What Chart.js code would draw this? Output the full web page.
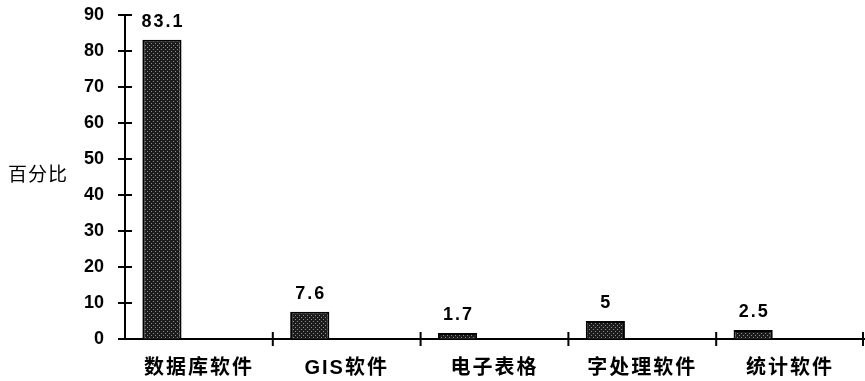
<!DOCTYPE html>
<html>
<head>
<meta charset="utf-8">
<script src="https://cdn.jsdelivr.net/npm/chart.js@4/dist/chart.umd.min.js"></script>
<style>
  html, body { margin: 0; padding: 0; background: #fff; }
  #wrap { width: 865px; height: 381px; }
</style>
</head>
<body>
<div id="wrap"><canvas id="c" width="865" height="381"></canvas></div>
<script>
// Software categories and their share (percent)
const categories = ['数据库软件', 'GIS软件', '电子表格', '字处理软件', '统计软件'];
const shares = [83.1, 7.6, 1.7, 5, 2.5];
// Empty companion series: keeps each bar in the left half of its category slot
const spacer = [null, null, null, null, null];
const yTickValues = [0, 10, 20, 30, 40, 50, 60, 70, 80, 90];
const yTitle = '百分比';

const latin = '"Liberation Sans", Arial, "Noto Sans CJK SC", sans-serif';
const cjk = '"Liberation Sans", "Noto Sans CJK SC", sans-serif';

// Stippled dark fill for the bars
function stipple() {
  const t = document.createElement('canvas');
  t.width = 4; t.height = 4;
  const g = t.getContext('2d');
  g.fillStyle = '#1c1c1c';
  g.fillRect(0, 0, 4, 4);
  g.fillStyle = '#8c8c8c';
  g.fillRect(1, 1, 1, 1);
  g.fillRect(3, 3, 1, 1);
  return g.createPattern(t, 'repeat');
}

const ctx = document.getElementById('c').getContext('2d');
const barFill = stipple();

// Wider letter spacing for the category labels only
const spacedCategoryLabels = {
  id: 'spacedCategoryLabels',
  afterLayout(chart) {
    const s = chart.scales.x;
    if (!s || s._spacedLabels) return;
    const orig = s.drawLabels.bind(s);
    s.drawLabels = function (area) {
      const c = this.ctx;
      const prev = c.letterSpacing;
      c.letterSpacing = '2px';
      orig(area);
      c.letterSpacing = prev;
    };
    s._spacedLabels = true;
  }
};

// Tick marks crossing both axes
const crossTicks = {
  id: 'crossTicks',
  afterDraw(chart) {
    const { ctx, chartArea, scales } = chart;
    const y = scales.y, x = scales.x;
    ctx.save();
    ctx.strokeStyle = '#000';
    ctx.lineWidth = 2;
    ctx.beginPath();
    yTickValues.forEach(v => {
      const py = Math.round(y.getPixelForValue(v));
      ctx.moveTo(chartArea.left - 7, py);
      ctx.lineTo(chartArea.left + 7, py);
    });
    const n = categories.length;
    for (let i = 1; i <= n; i++) {
      const px = i < n
        ? (x.getPixelForValue(i - 1) + x.getPixelForValue(i)) / 2
        : chartArea.right - 1;
      ctx.moveTo(px, chartArea.bottom - 7);
      ctx.lineTo(px, chartArea.bottom + 7);
    }
    ctx.stroke();
    ctx.restore();
  }
};

// Value labels above bars and the horizontal y-axis title
const labels = {
  id: 'labels',
  afterDatasetsDraw(chart) {
    const { ctx, chartArea } = chart;
    const meta = chart.getDatasetMeta(0);
    ctx.save();
    ctx.fillStyle = '#000';
    ctx.font = 'bold 18px ' + latin;
    ctx.textAlign = 'center';
    ctx.textBaseline = 'bottom';
    ctx.letterSpacing = '2px';
    meta.data.forEach((el, i) => {
      ctx.fillText(String(shares[i]), el.x + 1, el.y - 9);
    });
    ctx.font = '19px "Noto Sans CJK SC", sans-serif';
    ctx.textAlign = 'left';
    ctx.textBaseline = 'middle';
    ctx.letterSpacing = '1px';
    ctx.fillText(yTitle, 8, (chartArea.top + chartArea.bottom) / 2 - 3);
    ctx.restore();
  }
};

new Chart(ctx, {
  type: 'bar',
  data: {
    labels: categories,
    datasets: [
      {
        data: shares,
        backgroundColor: barFill,
        borderColor: '#000',
        borderWidth: 2,
        borderSkipped: 'bottom',
        categoryPercentage: 1,
        barPercentage: 0.53
      },
      {
        data: spacer,
        categoryPercentage: 1,
        barPercentage: 0.53
      }
    ]
  },
  options: {
    responsive: false,
    animation: false,
    devicePixelRatio: 1,
    layout: { autoPadding: false, padding: { left: 0, right: 1, top: 15, bottom: 0 } },
    plugins: {
      legend: { display: false },
      tooltip: { enabled: false },
      title: { display: false }
    },
    scales: {
      x: {
        grid: { display: false, drawTicks: false },
        border: { display: true, color: '#000', width: 2 },
        ticks: {
          color: '#000',
          padding: 17,
          font: { family: cjk, size: 20, weight: 'bold' },
          maxRotation: 0,
          autoSkip: false
        },
        afterFit(s) { s.height = 42; s.paddingLeft = 0; s.paddingRight = 0; }
      },
      y: {
        min: 0,
        max: 90,
        grid: { display: false, drawTicks: false },
        border: { display: true, color: '#000', width: 2 },
        ticks: {
          stepSize: 10,
          color: '#000',
          padding: 21,
          font: { family: latin, size: 18, weight: 'bold' }
        },
        afterFit(s) { s.width = 125; s.paddingTop = 0; s.paddingBottom = 0; }
      }
    }
  },
  plugins: [spacedCategoryLabels, labels, crossTicks]
});
</script>
</body>
</html>
